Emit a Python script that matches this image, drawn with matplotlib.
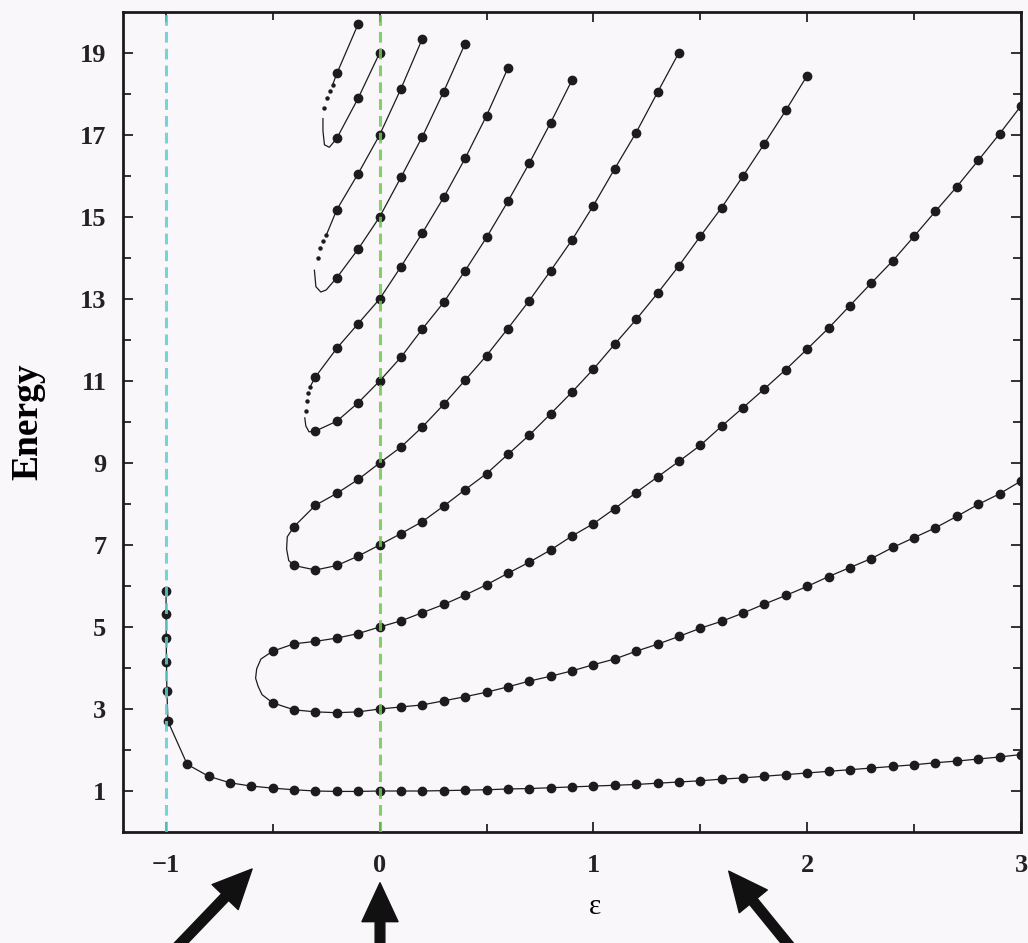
import matplotlib
matplotlib.use("Agg")
import matplotlib.pyplot as plt
from matplotlib.patches import FancyArrowPatch

# ground state (E=1 at eps=0)
ground_eps = [-0.999, -0.9985, -0.998, -0.997, -0.995, -0.99, -0.9, -0.8, -0.7, -0.6, -0.5,
              -0.4, -0.3, -0.2, -0.1, 0.0, 0.1, 0.2, 0.3, 0.4, 0.5, 0.6, 0.7, 0.8, 0.9,
              1.0, 1.1, 1.2, 1.3, 1.4, 1.5, 1.6, 1.7, 1.8, 1.9, 2.0, 2.1, 2.2, 2.3, 2.4,
              2.5, 2.6, 2.7, 2.8, 2.9, 3.0]
ground_E = [5.88, 5.31, 4.73, 4.14, 3.45, 2.70, 1.65, 1.36, 1.20, 1.12, 1.07,
            1.03, 1.00, 0.99, 0.99, 1.00, 1.00, 1.00, 1.01, 1.02, 1.03, 1.05, 1.06, 1.08, 1.10,
            1.12, 1.14, 1.16, 1.19, 1.22, 1.25, 1.29, 1.32, 1.36, 1.40, 1.44, 1.48, 1.52, 1.56, 1.60,
            1.64, 1.69, 1.73, 1.78, 1.83, 1.89]

# levels 3 and 5
l35_low_eps = [-0.5, -0.4, -0.3, -0.2, -0.1, 0.0, 0.1, 0.2, 0.3, 0.4, 0.5, 0.6, 0.7, 0.8, 0.9,
               1.0, 1.1, 1.2, 1.3, 1.4, 1.5, 1.6, 1.7, 1.8, 1.9, 2.0, 2.1, 2.2, 2.3, 2.4,
               2.5, 2.6, 2.7, 2.8, 2.9, 3.0]
l35_low_E = [3.15, 2.98, 2.93, 2.91, 2.93, 3.00, 3.05, 3.10, 3.20, 3.30, 3.41, 3.54, 3.68, 3.80, 3.93,
             4.08, 4.22, 4.41, 4.58, 4.77, 4.97, 5.14, 5.34, 5.56, 5.77, 5.99, 6.23, 6.45, 6.67, 6.94,
             7.18, 7.42, 7.70, 7.99, 8.25, 8.56]
l35_nose_eps = [-0.55, -0.568, -0.58, -0.575, -0.555]
l35_nose_E = [3.35, 3.55, 3.75, 3.98, 4.22]
l35_up_eps = [-0.5, -0.4, -0.3, -0.2, -0.1, 0.0, 0.1, 0.2, 0.3, 0.4, 0.5, 0.6, 0.7, 0.8, 0.9,
              1.0, 1.1, 1.2, 1.3, 1.4, 1.5, 1.6, 1.7, 1.8, 1.9, 2.0, 2.1, 2.2, 2.3, 2.4,
              2.5, 2.6, 2.7, 2.8, 2.9, 3.0]
l35_up_E = [4.41, 4.59, 4.65, 4.73, 4.84, 5.00, 5.15, 5.35, 5.55, 5.78, 6.03, 6.31, 6.58, 6.88, 7.22,
            7.52, 7.89, 8.28, 8.66, 9.04, 9.43, 9.90, 10.35, 10.81, 11.28, 11.78, 12.29, 12.84, 13.39, 13.93,
            14.53, 15.14, 15.74, 16.38, 17.03, 17.71]

# levels 7 and 9
l79_low_eps = [-0.4, -0.3, -0.2, -0.1, 0.0, 0.1, 0.2, 0.3, 0.4, 0.5, 0.6, 0.7, 0.8, 0.9,
               1.0, 1.1, 1.2, 1.3, 1.4, 1.5, 1.6, 1.7, 1.8, 1.9, 2.0]
l79_low_E = [6.50, 6.39, 6.50, 6.73, 7.00, 7.28, 7.57, 7.95, 8.35, 8.74, 9.21, 9.68, 10.20, 10.73,
             11.29, 11.90, 12.50, 13.14, 13.81, 14.53, 15.23, 16.00, 16.79, 17.60, 18.45]
l79_nose_eps = [-0.425, -0.435, -0.432]
l79_nose_E = [6.62, 6.90, 7.20]
l79_up_eps = [-0.4, -0.3, -0.2, -0.1, 0.0, 0.1, 0.2, 0.3, 0.4, 0.5, 0.6, 0.7, 0.8, 0.9,
              1.0, 1.1, 1.2, 1.3, 1.4]
l79_up_E = [7.45, 7.97, 8.26, 8.60, 9.00, 9.39, 9.88, 10.43, 11.02, 11.62, 12.28, 12.96, 13.69, 14.44,
            15.28, 16.18, 17.06, 18.04, 19.01]

# levels 11 and 13
l1113_low_eps = [-0.3, -0.2, -0.1, 0.0, 0.1, 0.2, 0.3, 0.4, 0.5, 0.6, 0.7, 0.8, 0.9]
l1113_low_E = [9.78, 10.02, 10.47, 11.00, 11.58, 12.27, 12.92, 13.69, 14.50, 15.38, 16.31, 17.30, 18.34]
l1113_nose_eps = [-0.33, -0.345, -0.35]
l1113_nose_E = [9.76, 9.90, 10.10]
l1113_dot_eps = [-0.345, -0.34, -0.335, -0.325]
l1113_dot_E = [10.28, 10.50, 10.70, 10.86]
l1113_up_eps = [-0.3, -0.2, -0.1, 0.0, 0.1, 0.2, 0.3, 0.4, 0.5, 0.6]
l1113_up_E = [11.10, 11.80, 12.40, 13.00, 13.79, 14.61, 15.48, 16.43, 17.47, 18.63]

# levels 15 and 17
l1517_low_eps = [-0.2, -0.1, 0.0, 0.1, 0.2, 0.3, 0.4]
l1517_low_E = [13.52, 14.22, 15.00, 15.97, 16.96, 18.06, 19.23]
l1517_nose_eps = [-0.25, -0.275, -0.298, -0.305]
l1517_nose_E = [13.22, 13.17, 13.30, 13.70]
l1517_dot_eps = [-0.29, -0.28, -0.265, -0.25]
l1517_dot_E = [14.00, 14.24, 14.41, 14.55]
l1517_up_eps = [-0.2, -0.1, 0.0, 0.1, 0.2]
l1517_up_E = [15.18, 16.06, 17.00, 18.13, 19.35]

# levels 19 and 21
l1921_low_eps = [-0.2, -0.1, 0.0]
l1921_low_E = [16.92, 17.90, 19.00]
l1921_nose_eps = [-0.235, -0.258, -0.265, -0.265]
l1921_nose_E = [16.70, 16.76, 17.10, 17.40]
l1921_dot_eps = [-0.26, -0.245, -0.234, -0.22]
l1921_dot_E = [17.67, 17.90, 18.08, 18.22]
l1921_up_eps = [-0.2, -0.1]
l1921_up_E = [18.50, 19.71]

xticks = [-1, 0, 1, 2, 3]
xtick_labels = ["\u22121", "0", "1", "2", "3"]
yticks = [1, 3, 5, 7, 9, 11, 13, 15, 17, 19]

plt.rcParams["font.family"] = ["Liberation Serif", "DejaVu Serif"]

fig = plt.figure(figsize=(10.28, 9.43), dpi=100, facecolor="#faf7fa")
ax = fig.add_axes([0.1197, 0.1177, 0.8735, 0.8696])
ax.set_facecolor("#faf7fa")

line_kw = dict(color="#1c1c1c", lw=0.9, zorder=2)
mark_kw = dict(ls="none", marker="o", ms=6.0, color="#1c1c1c", zorder=3)


def draw_loop(low_e, low_E, nose_e, nose_E, up_e, up_E, dot_e=None, dot_E=None):
    solid_e = low_e[::-1] + nose_e
    solid_E = low_E[::-1] + nose_E
    if dot_e:
        ax.plot(dot_e, dot_E, ls="none", marker="o", ms=2.2, color="#1c1c1c", zorder=2)
        ax.plot(solid_e, solid_E, **line_kw)
        ax.plot(dot_e[-1:] + up_e, dot_E[-1:] + up_E, **line_kw)
    else:
        ax.plot(solid_e + up_e, solid_E + up_E, **line_kw)
    ax.plot(low_e + up_e, low_E + up_E, **mark_kw)


ax.plot(ground_eps, ground_E, **line_kw)
ax.plot(ground_eps, ground_E, **mark_kw)
draw_loop(l35_low_eps, l35_low_E, l35_nose_eps, l35_nose_E, l35_up_eps, l35_up_E)
draw_loop(l79_low_eps, l79_low_E, l79_nose_eps, l79_nose_E, l79_up_eps, l79_up_E)
draw_loop(l1113_low_eps, l1113_low_E, l1113_nose_eps, l1113_nose_E, l1113_up_eps, l1113_up_E,
          l1113_dot_eps, l1113_dot_E)
draw_loop(l1517_low_eps, l1517_low_E, l1517_nose_eps, l1517_nose_E, l1517_up_eps, l1517_up_E,
          l1517_dot_eps, l1517_dot_E)
draw_loop(l1921_low_eps, l1921_low_E, l1921_nose_eps, l1921_nose_E, l1921_up_eps, l1921_up_E,
          l1921_dot_eps, l1921_dot_E)

# dashed guides at eps = -1 and eps = 0
ax.axvline(-1, color="#5ccfd6", lw=2.2, ls=(0, (3.5, 2.0)), alpha=0.85, zorder=4)
ax.axvline(0, color="#6ccb4e", lw=2.2, ls=(0, (3.5, 2.0)), alpha=0.85, zorder=4)

ax.set_xlim(-1.2, 3.0)
ax.set_ylim(0, 20)
ax.set_xticks(xticks)
ax.set_xticklabels(xtick_labels)
ax.set_xticks([-0.5, 0.5, 1.5, 2.5], minor=True)
ax.set_yticks(yticks)
ax.set_yticks(range(2, 20, 2), minor=True)
ax.tick_params(which="both", direction="in", top=True, right=True, width=1.3, colors="#222222")
ax.tick_params(which="major", length=7)
ax.tick_params(which="minor", length=6)
ax.tick_params(axis="x", which="major", pad=16, labelsize=19)
ax.tick_params(axis="y", which="major", pad=12, labelsize=19)
for lab in ax.get_xticklabels() + ax.get_yticklabels():
    lab.set_fontweight("bold")
for sp in ax.spines.values():
    sp.set_linewidth(2)
    sp.set_color("#1a1a1a")

ax.set_ylabel("Energy", fontsize=27, fontweight="bold")
ax.yaxis.set_label_coords(-0.087, 0.50)
ax.set_xlabel("\u03b5", fontsize=21)
ax.xaxis.set_label_coords(0.526, -0.075)

# arrows under the axis
arrow_style = "simple,tail_width=7,head_width=26,head_length=28"
for tail, tip in [((160, 965), (254, 867)), ((380, 975), (380, 880)), ((805, 965), (727, 869))]:
    fig.add_artist(FancyArrowPatch((tail[0] / 1028, 1 - tail[1] / 943), (tip[0] / 1028, 1 - tip[1] / 943),
                                   transform=fig.transFigure, arrowstyle=arrow_style,
                                   color="#111111", mutation_scale=1, clip_on=False))

fig.savefig("out.png", dpi=100, facecolor=fig.get_facecolor())
